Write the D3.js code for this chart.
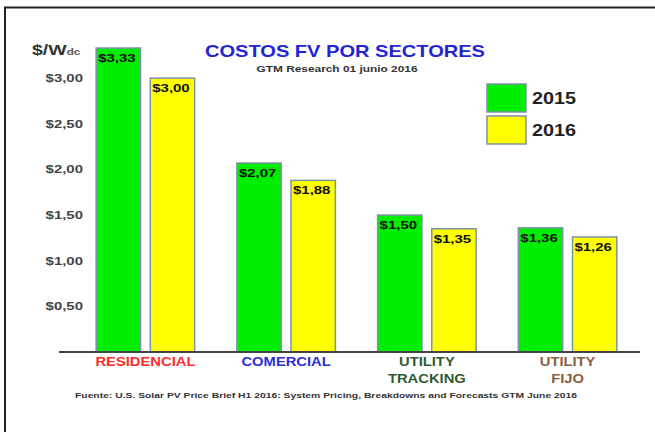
<!DOCTYPE html>
<html>
<head>
<meta charset="utf-8">
<script src="https://cdn.jsdelivr.net/npm/d3@7"></script>
<style>
  body { margin: 0; background: #fff; }
  text { font-family: "Liberation Sans", Arial, sans-serif; font-weight: bold; }
</style>
</head>
<body>
<div id="chart"></div>
<script>
// data
const sectors = ["RESIDENCIAL", "COMERCIAL", "UTILITY TRACKING", "UTILITY FIJO"];
const sectorLines = [["RESIDENCIAL"], ["COMERCIAL"], ["UTILITY", "TRACKING"], ["UTILITY", "FIJO"]];
const sectorColors = ["#ff2a2a", "#2b2bd6", "#2f5a2f", "#8a6040"];
const years = ["2015", "2016"];
const values2015 = [3.33, 2.07, 1.50, 1.36];
const values2016 = [3.00, 1.88, 1.35, 1.26];
const yearColors = ["#00ee00", "#ffff00"];
const yTicks = [0.5, 1, 1.5, 2, 2.5, 3];

const W = 655, H = 432;
const baseY = 352;

const svg = d3.select("#chart").append("svg")
  .attr("width", W).attr("height", H);

// the source picture has its lettering a bit wide, stretch text horizontally
function stretch(sel, k) {
  sel.each(function () {
    var len = this.getComputedTextLength();
    d3.select(this).attr("textLength", len * k).attr("lengthAdjust", "spacingAndGlyphs");
  });
}

// frame (only top and left show)
svg.append("path")
  .attr("d", "M5,440 L5,7.5 L660,7.5")
  .attr("fill", "none").attr("stroke", "#222").attr("stroke-width", 2);

var y = d3.scaleLinear().domain([0, 3.33]).range([baseY, baseY - 304]);

var x0 = d3.scaleBand().domain(sectors).range([68, 645])
  .paddingInner(0.30).paddingOuter(0.2);
var x1 = d3.scaleBand().domain(years).range([0, x0.bandwidth()]).paddingInner(0.18);

var fmt = function (v) { return "$" + v.toFixed(2).replace(".", ","); };

// y tick labels
svg.append("g").selectAll("text").data(yTicks).enter().append("text")
  .attr("x", 83).attr("y", function (d) { return y(d) + 4; })
  .attr("text-anchor", "end")
  .attr("fill", "#444").style("font-size", "11.5px")
  .text(fmt)
  .call(stretch, 1.3);

// unit label
var unit = svg.append("text").attr("x", 32).attr("y", 55).attr("fill", "#333");
unit.append("tspan").style("font-size", "15px").text("$/W");
unit.append("tspan").style("font-size", "9px").attr("fill", "#555").text("dc");
unit.call(stretch, 1.3);

// bars
var rows = sectors.map(function (s, i) {
  return { sector: s, vals: [values2015[i], values2016[i]] };
});
var groups = svg.append("g").selectAll("g").data(rows).enter().append("g")
  .attr("transform", function (d) { return "translate(" + x0(d.sector) + ",0)"; });

var bars = groups.selectAll("g").data(function (d) {
  return d.vals.map(function (v, j) { return { year: years[j], value: v, j: j }; });
}).enter().append("g");

bars.append("rect")
  .attr("x", function (d) { return x1(d.year); })
  .attr("y", function (d) { return y(d.value); })
  .attr("width", x1.bandwidth())
  .attr("height", function (d) { return baseY - y(d.value); })
  .attr("fill", function (d) { return yearColors[d.j]; })
  .attr("stroke", "#7d93a6").attr("stroke-width", 1.5);

bars.append("text")
  .attr("x", function (d) { return x1(d.year) + 2; })
  .attr("y", function (d) { return y(d.value) + 14; })
  .attr("fill", "#111").style("font-size", "11.5px")
  .text(function (d) { return fmt(d.value); })
  .call(stretch, 1.3);

// baseline
svg.append("line").attr("x1", 59).attr("x2", 640).attr("y1", baseY).attr("y2", baseY)
  .attr("stroke", "#444").attr("stroke-width", 2);

// category labels, one text per line
var catLines = [];
sectors.forEach(function (s, i) {
  sectorLines[i].forEach(function (t, k) {
    catLines.push({ sector: s, line: t, k: k, color: sectorColors[i] });
  });
});
svg.append("g").selectAll("text").data(catLines).enter().append("text")
  .attr("x", function (d) { return x0(d.sector) + x0.bandwidth() / 2; })
  .attr("y", function (d) { return 366 + d.k * 17; })
  .attr("text-anchor", "middle")
  .attr("fill", function (d) { return d.color; })
  .style("font-size", "12.5px")
  .text(function (d) { return d.line; })
  .call(stretch, 1.18);

// title
svg.append("text").attr("x", 345).attr("y", 57).attr("text-anchor", "middle")
  .attr("fill", "#2323d8").style("font-size", "17px")
  .attr("textLength", 280).attr("lengthAdjust", "spacingAndGlyphs")
  .text("COSTOS FV POR SECTORES");
svg.append("text").attr("x", 337).attr("y", 72).attr("text-anchor", "middle")
  .attr("fill", "#333").style("font-size", "8.5px")
  .attr("textLength", 161).attr("lengthAdjust", "spacingAndGlyphs")
  .text("GTM Research 01 junio 2016");

// legend
var leg = svg.append("g").selectAll("g").data(years).enter().append("g")
  .attr("transform", function (d, i) { return "translate(487," + (84 + i * 32) + ")"; });
leg.append("rect").attr("width", 39).attr("height", 28)
  .attr("fill", function (d, i) { return yearColors[i]; })
  .attr("stroke", "#7d93a6").attr("stroke-width", 1.5);
leg.append("text").attr("x", 45).attr("y", 20)
  .attr("fill", "#222").style("font-size", "16.5px")
  .text(function (d) { return d; })
  .call(stretch, 1.2);

// source
svg.append("text").attr("x", 75).attr("y", 398)
  .attr("fill", "#333").style("font-size", "7.5px")
  .attr("textLength", 502).attr("lengthAdjust", "spacingAndGlyphs")
  .text("Fuente: U.S. Solar PV Price Brief H1 2016: System Pricing, Breakdowns and Forecasts  GTM June 2016");
</script>
</body>
</html>
